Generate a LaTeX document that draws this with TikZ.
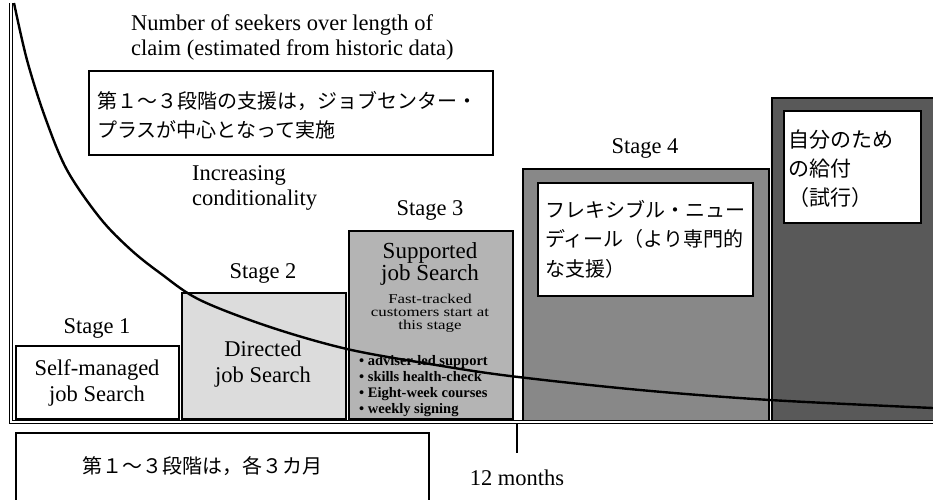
\documentclass[tikz,border=0pt]{standalone}
\usepackage{fontspec}
\setmainfont{Liberation Serif}
\newfontfamily\jp{Noto Sans CJK JP}
\definecolor{stwo}{RGB}{220,220,220}
\definecolor{sthree}{RGB}{180,180,180}
\definecolor{sfour}{RGB}{136,136,136}
\definecolor{sfive}{RGB}{89,89,89}
\begin{document}
\begin{tikzpicture}[x=1pt,y=-1pt,
  lbl/.style={inner sep=0pt, align=center, font=\fontsize{22.5}{26}\selectfont},
  lbll/.style={inner sep=0pt, align=left, anchor=west, font=\fontsize{22.5}{25}\selectfont},
  jptext/.style={inner sep=0pt, align=left, anchor=west, font=\jp\fontsize{20}{29.5}\selectfont},
  stagebox/.style={draw=black, line width=1.5pt, anchor=north west, inner sep=0pt},
  whitebox/.style={stagebox, fill=white},
  axis/.style={double, double distance=2.2pt, line width=1.1pt},
  curve/.style={line width=2.4pt, line join=round}
]
\useasboundingbox (0,0) rectangle (933,499);

% stage boxes
\node[whitebox, minimum width=163pt, minimum height=73pt] (s1box) at (15,345) {};
\node[stagebox, fill=stwo, minimum width=164pt, minimum height=126pt] (s2box) at (181,292) {};
\node[stagebox, fill=sthree, minimum width=164pt, minimum height=188pt] (s3box) at (348,230) {};
\node[stagebox, fill=sfour, minimum width=246pt, minimum height=252pt] (s4box) at (522,168) {};
\node[stagebox, fill=sfive, minimum width=170pt, minimum height=323pt] (s5box) at (771,97) {};
\node[whitebox, minimum width=215pt, minimum height=113pt] (s4in) at (537,182) {};
\node[whitebox, minimum width=137pt, minimum height=112pt] (s5in) at (783,110) {};

% top note box
\node[whitebox, minimum width=404pt, minimum height=84pt] (topbox) at (88,70) {};
% bottom note box
\node[draw=black, line width=2pt, anchor=north west, inner sep=0pt, minimum width=413pt, minimum height=90pt] (botbox) at (15,432) {};

% axes
\draw[axis] (11,3) -- (11,422) -- (940,422);

% curve
\draw[curve] plot[smooth, tension=0.55] coordinates {(14,3) (27,60) (45,117) (67,170) (100,218) (130,249) (160,273) (200,300) (270,327) (347,349) (430,364) (510,376) (640,390) (770,400) (933,408)};

% tick
\coordinate (tick) at (517,424);
\coordinate (tickend) at (517,453);
\draw[line width=1.2pt] (tick) -- (tickend);
\node[lbl] (months) at (517,478) {12 months};

% texts
\node[lbll] (title) at (131,37) {Number of seekers over length of\\claim (estimated from historic data)};
\node[jptext] (toptext) at (97,115) {第１～３段階の支援は，ジョブセンター・\\プラスが中心となって実施};
\node[lbll] (incr) at (192,188) {Increasing\\conditionality};

\node[lbl] (st1) at (97,328) {Stage 1};
\node[lbl] (st1t) at (97,383) {Self-managed\\job Search};
\node[lbl] (st2) at (263,273) {Stage 2};
\node[lbl] (st2t) at (263,364) {Directed\\job Search};
\node[lbl] (st3) at (430,210) {Stage 3};
\node[inner sep=0pt, align=center, font=\fontsize{23}{22}\selectfont] (st3t) at (430,264) {Supported\\job Search};
\node[inner sep=0pt, align=center, xscale=1.25, font=\fontsize{13.5}{13}\selectfont] (st3f) at (430,313) {Fast-tracked\\customers start at\\this stage};
\node[inner sep=0pt, align=left, anchor=west, font=\bfseries\fontsize{14.5}{16}\selectfont] (st3b) at (359,386) {• adviser-led support\\• skills health-check\\• Eight-week courses\\• weekly signing};
\node[lbl] (st4) at (645,148) {Stage 4};
\node[jptext] (st4t) at (545,239) {フレキシブル・ニュー\\ディール（より専門的\\な支援）};
\node[jptext, font=\jp\fontsize{21}{29}\selectfont] (st5t) at (788,169) {自分のため\\の給付\\（試行）};
\node[jptext] (bottext) at (82,466) {第１～３段階は，各３カ月};
\end{tikzpicture}
\end{document}
